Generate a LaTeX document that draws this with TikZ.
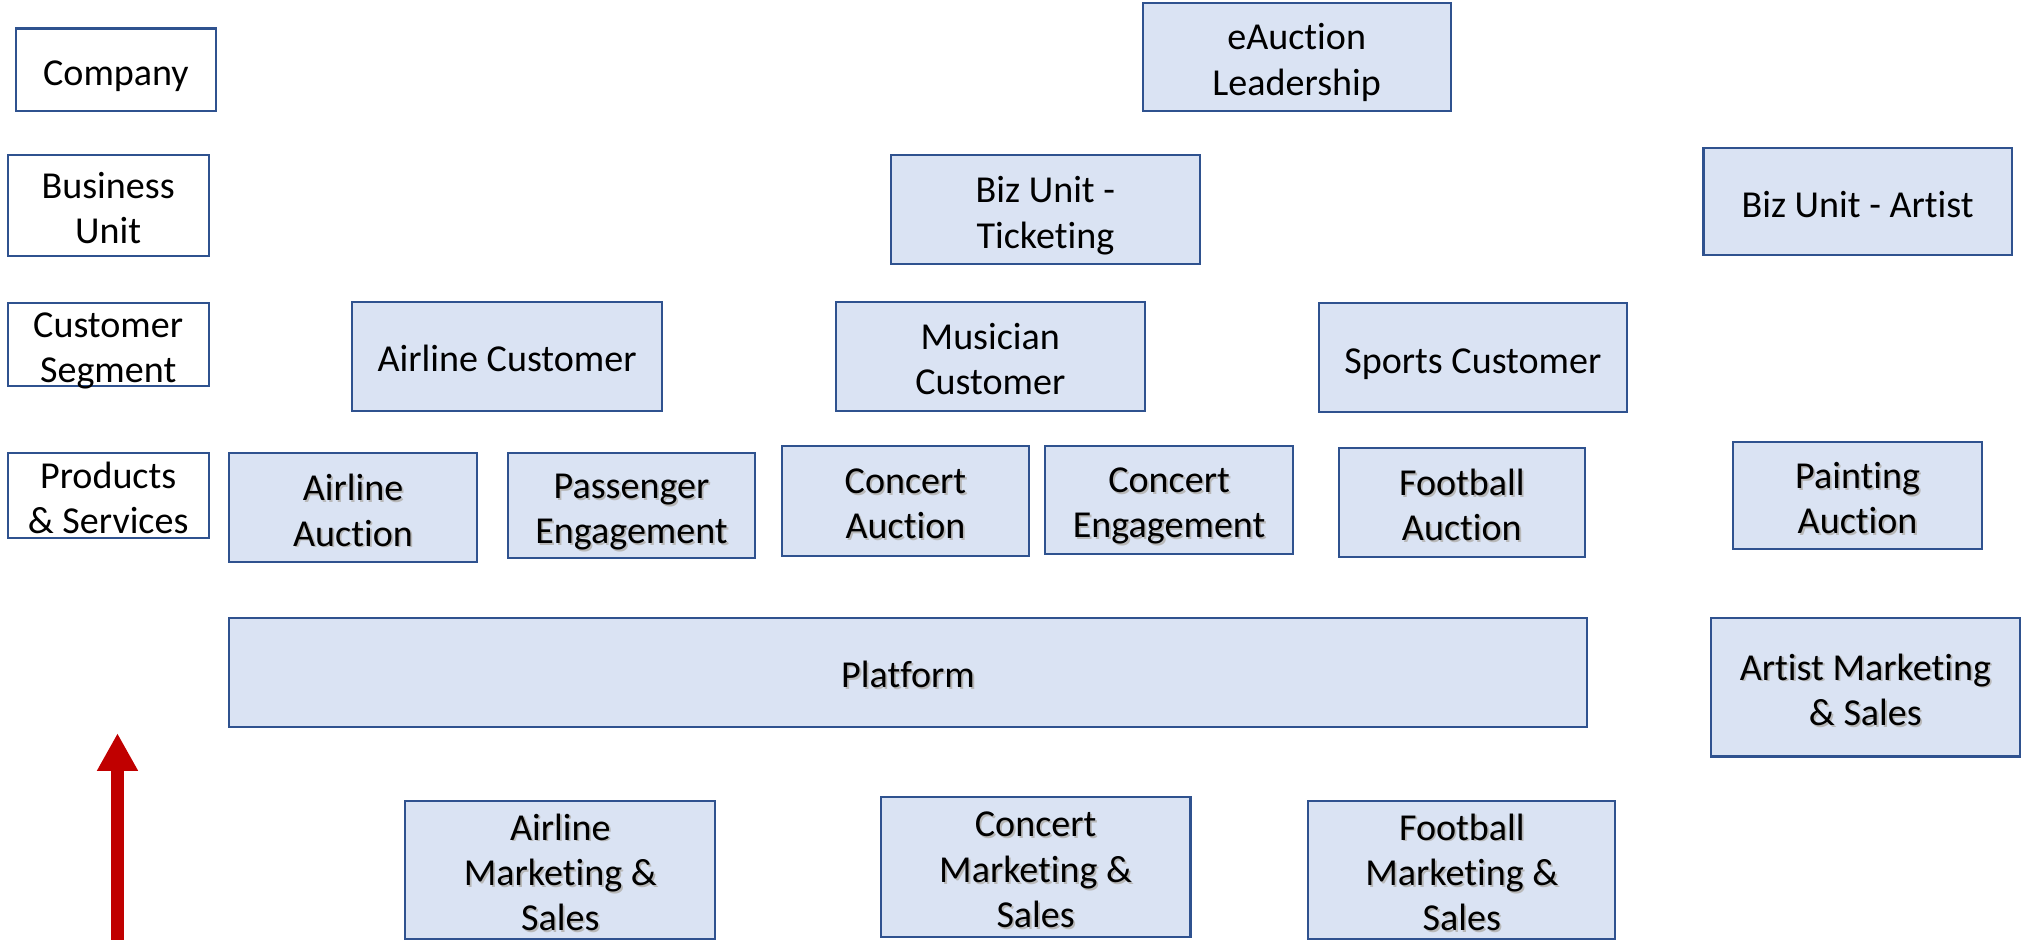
\documentclass[tikz,border=0pt]{standalone}
\usepackage{fontspec}
\setmainfont{Carlito}[Ligatures={NoCommon}, RawFeature={-liga;-clig;-calt;-dlig}]
\usetikzlibrary{arrows.meta}
\definecolor{bordblue}{HTML}{2F528F}
\definecolor{fillblue}{HTML}{DAE3F3}
\definecolor{arrowred}{HTML}{C00000}
\newcommand\boxfont{\fontsize{14.7}{17.5}\selectfont\lineskiplimit=-100pt\relax}
\newcommand\mystrut{\rule[-0.2em]{0pt}{1.22em}}
\newcommand\pline[1]{\mystrut#1}
\newcommand\shd[1]{\mystrut\makebox[0pt][l]{\kern0.7pt\raisebox{-0.7pt}{\textcolor{black!28}{#1}}}#1}
\begin{document}
\begin{tikzpicture}[x=0.5pt,y=-0.5pt,
  base/.style={draw=bordblue, line width=0.8pt, align=center,
    inner xsep=0pt, inner ysep=-6pt, font=\boxfont},
  lab/.style={base, fill=white},
  blk/.style={base, fill=fillblue},
  sz/.style 2 args={minimum width=#1*0.5pt, minimum height=#2*0.5pt}]
\useasboundingbox (0,0) rectangle (1564,725.64);
% level labels
\node[lab, sz={155}{64}] (company) at (89.5,54) {\pline{Company}};
\node[lab, sz={155}{77.5}] (bu) at (83.5,158.75) {\pline{Business}\\\pline{Unit}};
\node[lab, sz={155}{64}] (cs) at (83.5,266) {\pline{Customer}\\\pline{Segment}};
\node[lab, sz={155}{65}] (ps) at (83.5,382.5) {\pline{Products}\\\pline{\& Services}};
% company / business units
\node[blk, sz={238}{84}] (lead) at (1001,44) {\pline{eAuction}\\\pline{Leadership}};
\node[blk, sz={238}{84}] (bizt) at (807,162) {\pline{Biz Unit -}\\\pline{Ticketing}};
\node[blk, sz={238}{83}] (biza) at (1434,155.5) {\pline{Biz Unit - Artist}};
% customer segments
\node[blk, sz={239}{84}] (airc) at (391.5,275) {\pline{Airline Customer}};
\node[blk, sz={239}{84}] (musc) at (764.5,275) {\pline{Musician}\\\pline{Customer}};
\node[blk, sz={238}{84}] (spoc) at (1137,276) {\pline{Sports Customer}};
% products & services
\node[blk, sz={191}{84}] (aira) at (272.5,392) {\shd{Airline}\\\shd{Auction}};
\node[blk, sz={191}{81}] (pase) at (487.5,390.5) {\shd{Passenger}\\\shd{Engagement}};
\node[blk, sz={190}{85}] (cona) at (699,386.5) {\shd{Concert}\\\shd{Auction}};
\node[blk, sz={191}{84}] (cone) at (902.5,386) {\shd{Concert}\\\shd{Engagement}};
\node[blk, sz={190}{84}] (foota) at (1128.5,388) {\shd{Football}\\\shd{Auction}};
\node[blk, sz={192}{83}] (paia) at (1434,382.5) {\shd{Painting}\\\shd{Auction}};
% platform
\node[blk, sz={1048}{84}] (plat) at (701,519) {\shd{Platform}};
\node[blk, sz={238}{107}] (artm) at (1440,530.5) {\shd{Artist Marketing}\\\shd{\& Sales}};
% marketing & sales
\node[blk, sz={239}{107}] (airm) at (432.5,671.5) {\shd{Airline}\\\shd{Marketing \&}\\\shd{Sales}};
\node[blk, sz={239}{108}] (conm) at (799.5,669) {\shd{Concert}\\\shd{Marketing \&}\\\shd{Sales}};
\node[blk, sz={237}{107}] (footm) at (1128.5,671.5) {\shd{Football}\\\shd{Marketing \&}\\\shd{Sales}};
% red arrow
\coordinate (abot) at (90.7,725.64);
\coordinate (atop) at (90.7,566);
\draw[arrowred, line width=4.8pt, -{Triangle[width=14.8pt,length=14.5pt]}] (abot) -- (atop);
\end{tikzpicture}
\end{document}
